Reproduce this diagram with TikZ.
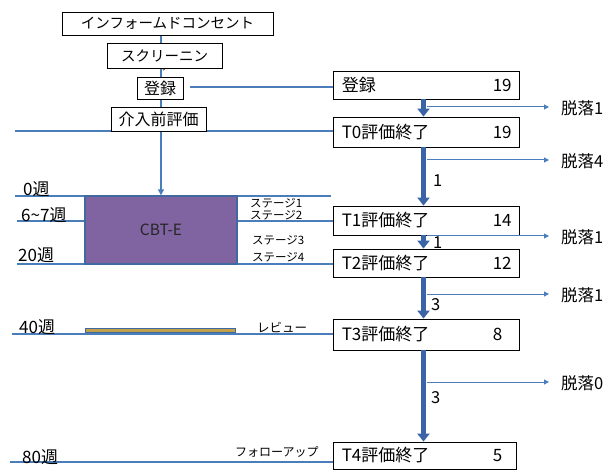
\documentclass[tikz,border=0pt]{standalone}
\usepackage{fontspec}
\setmainfont{Noto Sans CJK JP}
\usetikzlibrary{arrows.meta}
\pgfdeclarelayer{bg}
\pgfsetlayers{bg,main}
\definecolor{thinb}{HTML}{4A7EBB}
\definecolor{thickb}{HTML}{3A64A5}
\definecolor{cbtfill}{HTML}{8064A2}
\definecolor{cbtline}{HTML}{41689F}
\definecolor{revfill}{HTML}{C0A048}
\newcommand\myfs[1]{\fontsize{#1}{#1}\selectfont}
\begin{document}
\begin{tikzpicture}[x=1pt,y=-1pt,
  box/.style={draw=black,line width=0.8pt,fill=white,inner sep=0pt},
  rbox/.style={box,minimum width=186pt},
  lt/.style={anchor=west,inner sep=0pt},
  thinline/.style={draw=thinb,line width=1.3pt},
  thinarrow/.style={draw=thinb,line width=1pt,-{Triangle[width=5pt,length=5pt]}},
  thickarrow/.style={draw=thickb,line width=5pt,-{Triangle[width=12pt,length=8pt]}},
  rtext/.style={lt,font=\myfs{17}},
  wk/.style={lt,font=\myfs{17}},
  stg/.style={lt,font=\myfs{11.5}},
  drop/.style={lt,font=\myfs{16.5}},
  num/.style={lt,font=\myfs{16.5}}]
\useasboundingbox (0,0) rectangle (610,470);

% left column boxes
\node[box,minimum width=211pt,minimum height=23pt,font=\myfs{14.5}] (ic) at (167.5,23.5) {インフォームドコンセント};
\node[box,minimum width=115pt,minimum height=25pt,font=\myfs{14.5}] (scr) at (164.5,55.5) {スクリーニン};
\node[inner sep=0pt,font=\myfs{9}] (frag) at (167,73) {゛};
\node[box,minimum width=46pt,minimum height=22pt,font=\myfs{16}] (reg) at (160,88) {登録};
\node[box,minimum width=95pt,minimum height=24pt,font=\myfs{16}] (pre) at (158.5,119) {介入前評価};
\node[draw=cbtline,fill=cbtfill,line width=1.3pt,minimum width=152pt,minimum height=68pt,inner sep=0pt,font=\myfs{15.5},text=black!85] (cbt) at (161,230) {CBT-E};
\node[draw=cbtline,fill=revfill,line width=1pt,minimum width=150pt,minimum height=4pt,inner sep=0pt] (rev) at (160,330.5) {};

% right column boxes
\node[rbox,minimum height=28pt] (R0) at (426,85) {};
\node[rbox,minimum height=30pt] (T0) at (426,132) {};
\node[rbox,minimum height=29pt] (T1) at (426,220.5) {};
\node[rbox,minimum height=28pt] (T2) at (426,263) {};
\node[rbox,minimum height=31pt] (T3) at (426,334.5) {};
\node[box,minimum width=183pt,minimum height=27pt] (T4) at (424.5,455.5) {};

\node[rtext] (R0a) at ([xshift=9pt]R0.west) {登録};
\node[rtext] (R0n) at ([xshift=160pt]R0.west) {19};
\node[rtext] (T0a) at ([xshift=9pt]T0.west) {T0評価終了};
\node[rtext] (T0n) at ([xshift=160pt]T0.west) {19};
\node[rtext] (T1a) at ([xshift=9pt]T1.west) {T1評価終了};
\node[rtext] (T1n) at ([xshift=160pt]T1.west) {14};
\node[rtext] (T2a) at ([xshift=9pt]T2.west) {T2評価終了};
\node[rtext] (T2n) at ([xshift=160pt]T2.west) {12};
\node[rtext] (T3a) at ([xshift=9pt]T3.west) {T3評価終了};
\node[rtext] (T3n) at ([xshift=160pt]T3.west) {8};
\node[rtext] (T4a) at ([xshift=9pt]T4.west) {T4評価終了};
\node[rtext] (T4n) at ([xshift=160pt]T4.west) {5};

% week labels
\node[wk] (w0) at (23,189) {0週};
\node[wk] (w6) at (21,215) {6\textasciitilde7週};
\node[wk] (w20) at (18,255) {20週};
\node[wk] (w40) at (19,327) {40週};
\node[wk] (w80) at (22,457) {80週};

% stage labels
\node[stg] (s1) at (250,203) {ステージ1};
\node[stg] (s2) at (250,215) {ステージ2};
\node[stg] (s3) at (252,240) {ステージ3};
\node[stg] (s4) at (252,257) {ステージ4};
\node[stg,font=\myfs{12.5}] (srev) at (257,327) {レビュー};
\node[stg,font=\myfs{12}] (sfol) at (235,452) {フォローアップ};

% drop-out labels
\node[drop] (d1) at (561,108) {脱落1};
\node[drop] (d2) at (561,161) {脱落4};
\node[drop] (d3) at (561,237) {脱落1};
\node[drop] (d4) at (561,295) {脱落1};
\node[drop] (d5) at (561,383) {脱落0};

% step numbers
\node[num] (n1) at (433,181) {1};
\node[num] (n2) at (433,243) {1};
\node[num] (n3) at (431,305) {3};
\node[num] (n4) at (431,398) {3};

\coordinate (a0) at (15,196);
\coordinate (a0e) at (331,196);
\coordinate (aPre) at (15,131);
\coordinate (a6) at (17,221);
\coordinate (a20) at (17,264);
\coordinate (a40) at (12,334);
\coordinate (a80) at (10,462);
\coordinate (aReg) at (190,87);

\begin{pgfonlayer}{bg}
\draw[thinline,-{Triangle[width=6pt,length=6pt]}] (ic.south -| cbt.north) -- (cbt.north);
\draw[thinline] (aReg) -- (R0.west |- aReg);
\draw[thinline] (aPre) -- (T0.west |- aPre);
\draw[thinline] (a0) -- (a0e);
\draw[thinline] (a6) -- (T1.west |- a6);
\draw[thinline] (a20) -- (T2.west |- a20);
\draw[thinline] (a40) -- (T3.west |- a40);
\draw[thinline] (a80) -- (T4.west |- a80);
\end{pgfonlayer}

% thick arrows
\draw[thickarrow] ([xshift=-2.5pt]R0.south) -- ([xshift=-2.5pt]T0.north);
\draw[thickarrow] ([xshift=-2.5pt]T0.south) -- ([xshift=-2.5pt]T1.north);
\draw[thickarrow] ([xshift=-2.5pt]T1.south) -- ([xshift=-2.5pt]T2.north);
\draw[thickarrow] ([xshift=-2.5pt]T2.south) -- ([xshift=-2.5pt]T3.north);
\draw[thickarrow] ([xshift=-2.5pt]T3.south) -- ([xshift=-1pt]T4.north);

% drop arrows
\coordinate (b1) at (427,107);
\coordinate (b2) at (427,160);
\coordinate (b3) at (427,236);
\coordinate (b4) at (427,294);
\coordinate (b5) at (427,382);
\draw[thinarrow] (b1) -- ([xshift=-12pt]d1.west |- b1);
\draw[thinarrow] (b2) -- ([xshift=-12pt]d2.west |- b2);
\draw[thinarrow] (b3) -- ([xshift=-12pt]d3.west |- b3);
\draw[thinarrow] (b4) -- ([xshift=-12pt]d4.west |- b4);
\draw[thinarrow] (b5) -- ([xshift=-12pt]d5.west |- b5);
\end{tikzpicture}
\end{document}
